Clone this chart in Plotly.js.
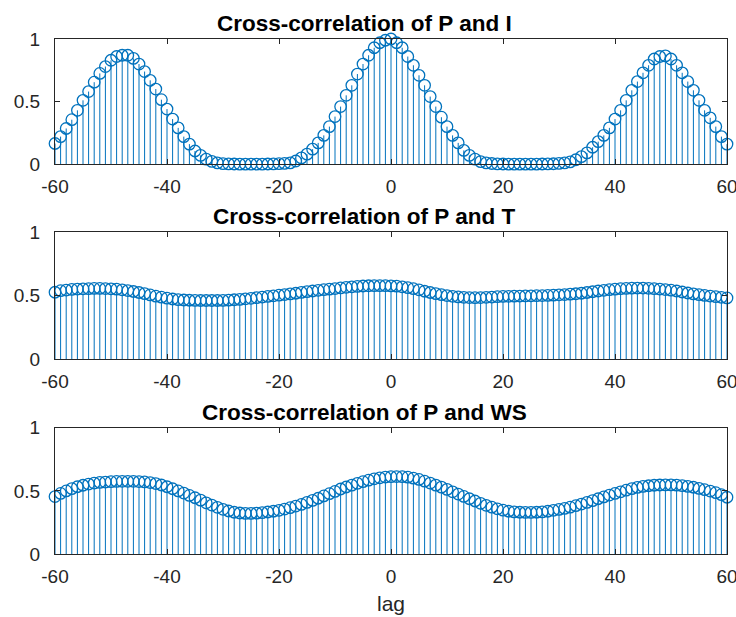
<!DOCTYPE html>
<html>
<head>
<meta charset="utf-8">
<script src="https://cdn.plot.ly/plotly-3.0.1.min.js"></script>
<style>html,body{margin:0;padding:0;background:#fff;}#chart{width:736px;height:617px;}</style>
</head>
<body>
<div id="chart"></div>
<script>
// lags -60..60
const lags = [];
for (let k = -60; k <= 60; k++) lags.push(k);

const titles = ["Cross-correlation of P and I", "Cross-correlation of P and T", "Cross-correlation of P and WS"];
const xlabel = "lag";
const xTicks = [-60, -40, -20, 0, 20, 40, 60];
const yTicks = [0, 0.5, 1];

// P and I (lags -60..60)
const corrPI = [
  0.165, 0.22, 0.285, 0.355, 0.43, 0.51, 0.58, 0.655, 0.725, 0.78,
  0.83, 0.86, 0.87, 0.87, 0.845, 0.80, 0.74, 0.67, 0.60, 0.515,
  0.44, 0.36, 0.29, 0.22, 0.16, 0.105, 0.07, 0.04, 0.022, 0.01,
  0.004, 0.002, 0.001, 0.0, 0.0, 0.0, 0.0, 0.0, 0.001, 0.002,
  0.004, 0.006, 0.01, 0.025, 0.05, 0.08, 0.12, 0.17, 0.23, 0.30,
  0.38, 0.46, 0.55, 0.63, 0.72, 0.80, 0.87, 0.93, 0.97, 0.99,
  1.0,
  0.97, 0.93, 0.86, 0.79, 0.71, 0.63, 0.54, 0.46, 0.375, 0.30,
  0.23, 0.17, 0.11, 0.07, 0.04, 0.02, 0.01, 0.005, 0.002, 0.001,
  0.0, 0.0, 0.0, 0.0, 0.0, 0.0, 0.001, 0.002, 0.003, 0.006,
  0.01, 0.018, 0.035, 0.06, 0.09, 0.135, 0.18, 0.23, 0.29, 0.36,
  0.43, 0.51, 0.59, 0.66, 0.73, 0.79, 0.84, 0.86, 0.865, 0.84,
  0.79, 0.73, 0.66, 0.59, 0.51, 0.43, 0.37, 0.30, 0.22, 0.16
];

// P and T
const corrPT = [
  0.528, 0.54, 0.545, 0.55, 0.553, 0.555, 0.556, 0.558, 0.558, 0.557,
  0.555, 0.552, 0.547, 0.541, 0.534, 0.526, 0.517, 0.507, 0.497, 0.489,
  0.481, 0.475, 0.470, 0.467, 0.465, 0.464, 0.463, 0.463, 0.463, 0.463,
  0.464, 0.466, 0.469, 0.472, 0.476, 0.480, 0.485, 0.490, 0.495, 0.500,
  0.505, 0.510, 0.515, 0.520, 0.527, 0.533, 0.538, 0.543, 0.548, 0.552,
  0.557, 0.562, 0.567, 0.571, 0.574, 0.577, 0.579, 0.580, 0.580, 0.580,
  0.578,
  0.576, 0.571, 0.564, 0.556, 0.547, 0.536, 0.526, 0.517, 0.509, 0.502,
  0.496, 0.491, 0.488, 0.486, 0.485, 0.486, 0.488, 0.490, 0.493, 0.495,
  0.496, 0.497, 0.498, 0.499, 0.500, 0.501, 0.502, 0.503, 0.505, 0.508,
  0.510, 0.513, 0.516, 0.520, 0.526, 0.532, 0.538, 0.543, 0.548, 0.552,
  0.556, 0.558, 0.560, 0.561, 0.561, 0.559, 0.556, 0.553, 0.549, 0.544,
  0.538, 0.530, 0.522, 0.515, 0.509, 0.503, 0.498, 0.493, 0.488, 0.483, 0.476
];

// P and WS
const corrPWS = [
  0.455, 0.48, 0.50, 0.518, 0.533, 0.545, 0.554, 0.562, 0.567, 0.570,
  0.573, 0.575, 0.576, 0.576, 0.576, 0.574, 0.571, 0.566, 0.558, 0.547,
  0.533, 0.517, 0.500, 0.483, 0.464, 0.446, 0.427, 0.406, 0.388, 0.370,
  0.354, 0.341, 0.331, 0.325, 0.322, 0.322, 0.324, 0.328, 0.333, 0.339,
  0.346, 0.356, 0.367, 0.380, 0.393, 0.409, 0.425, 0.442, 0.460, 0.478,
  0.496, 0.515, 0.531, 0.546, 0.560, 0.573, 0.585, 0.596, 0.604, 0.610,
  0.613,
  0.614, 0.613, 0.609, 0.601, 0.591, 0.577, 0.562, 0.546, 0.530, 0.512,
  0.493, 0.475, 0.456, 0.438, 0.420, 0.402, 0.386, 0.371, 0.358, 0.347,
  0.339, 0.334, 0.331, 0.330, 0.330, 0.331, 0.334, 0.339, 0.346, 0.353,
  0.361, 0.371, 0.383, 0.396, 0.409, 0.423, 0.438, 0.452, 0.467, 0.480,
  0.493, 0.506, 0.518, 0.528, 0.536, 0.541, 0.545, 0.547, 0.548, 0.548,
  0.546, 0.542, 0.536, 0.529, 0.520, 0.510, 0.499, 0.486, 0.470, 0.450, 0.42
];

const series = [corrPI, corrPT, corrPWS];
const blue = '#0072BD';
const axColor = '#262626';
const fontFam = 'Liberation Sans, Arial, Helvetica, sans-serif';

const traces = series.map((vals, i) => ({
  type: 'scatter',
  mode: 'markers',
  x: lags,
  y: vals,
  xaxis: i === 0 ? 'x' : 'x' + (i + 1),
  yaxis: i === 0 ? 'y' : 'y' + (i + 1),
  cliponaxis: false,
  marker: {symbol: 'circle-open', size: 11.5, color: blue, line: {color: blue, width: 1.3}},
  error_y: {type: 'data', symmetric: false, array: vals.map(() => 0), arrayminus: vals, color: blue, thickness: 1, width: 0},
  hoverinfo: 'x+y',
  showlegend: false
}));

const domains = [[0.757, 1.0], [0.378, 0.6247], [0.0, 0.245]];

function xAxis(i) {
  return {
    domain: [0, 1], anchor: i === 0 ? 'y' : 'y' + (i + 1),
    range: [-60, 60], tickvals: xTicks, ticktext: xTicks.map(String),
    ticks: 'inside', ticklen: 5, tickwidth: 1, tickcolor: axColor,
    showline: true, linecolor: axColor, linewidth: 1, mirror: 'ticks',
    showgrid: false, zeroline: false, ticklabelstandoff: 5,
    ticklabeloverflow: 'allow',
    tickfont: {family: fontFam, size: 19, color: axColor}
  };
}
function yAxis(i) {
  return {
    domain: domains[i], anchor: i === 0 ? 'x' : 'x' + (i + 1),
    range: [0, 1], tickvals: yTicks, ticktext: ['0', '0.5', '1'],
    ticks: 'inside', ticklen: 5, tickwidth: 1, tickcolor: axColor,
    showline: true, linecolor: axColor, linewidth: 1, mirror: 'ticks',
    showgrid: false, zeroline: false, ticklabelstandoff: 10,
    ticklabeloverflow: 'allow',
    tickfont: {family: fontFam, size: 19, color: axColor}
  };
}

const layout = {
  width: 736, height: 617,
  margin: {l: 55, r: 9, t: 39, b: 63},
  paper_bgcolor: '#ffffff', plot_bgcolor: '#ffffff',
  font: {family: fontFam, color: axColor},
  showlegend: false,
  annotations: titles.map((t, i) => ({
    text: '<b>' + t + '</b>', xref: 'paper', yref: 'paper',
    x: 0.46, y: domains[i][1], xanchor: 'center', yanchor: 'bottom', yshift: 1,
    showarrow: false, font: {family: fontFam, size: 22.5, color: '#000000'}
  }))
};
for (let i = 0; i < 3; i++) {
  const s = i === 0 ? '' : String(i + 1);
  layout['xaxis' + s] = xAxis(i);
  layout['yaxis' + s] = yAxis(i);
}
layout.xaxis3.title = {text: xlabel, font: {family: fontFam, size: 21, color: axColor}, standoff: 10};

Plotly.newPlot('chart', traces, layout, {displayModeBar: false, staticPlot: true});
</script>
</body>
</html>
